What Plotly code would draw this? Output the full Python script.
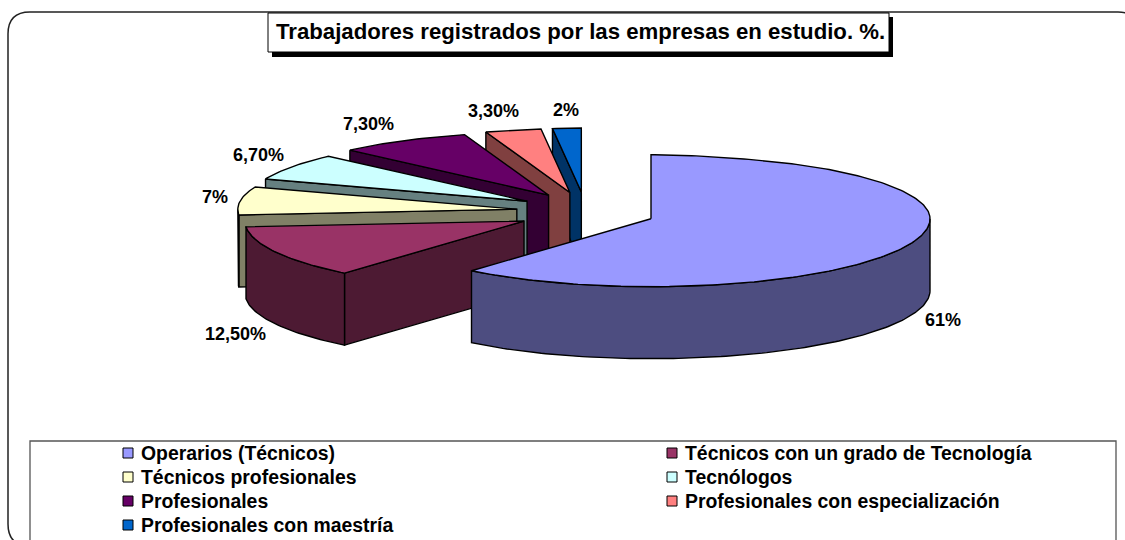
import math
import plotly.graph_objects as go

# ---- data ----
categories = ["Operarios (Técnicos)", "Técnicos con un grado de Tecnología",
              "Técnicos profesionales", "Tecnólogos", "Profesionales",
              "Profesionales con especialización", "Profesionales con maestría"]
values = [61, 12.5, 7, 6.7, 7.3, 3.3, 2]
value_labels = ["61%", "12,50%", "7%", "6,70%", "7,30%", "3,30%", "2%"]
title_text = "Trabajadores registrados por las empresas en estudio. %."

# ---- style ----
top_colors = ["#9999FF", "#993366", "#FFFFCC", "#CCFFFF", "#660066", "#FF8080", "#0066CC"]
wall_colors = ["#4D4D80", "#4D1A33", "#808066", "#668080", "#330033", "#804040", "#003366"]
FONT = "Liberation Sans"
RX, RY_BACK, RY_FRONT, DEPTH = 279, 64, 68, 72
CX, CY = 585.7, 211.9
PULL_X, PULL_Y = 69.5, 19.9
label_pos = [(943, 320), (235, 334), (215, 197), (258, 155), (368, 124), (493, 111), (566, 110)]
legend_cols = [(128, 139), (672, 683)]
legend_rows = [453, 477, 501, 525]


def rim(cx, cy, deg):
    a = math.radians(deg)
    dy = -math.cos(a)
    if dy < 0:
        return cx + RX * math.sin(a) * (1 - 0.2 * abs(dy) ** 16), cy + RY_BACK * dy
    return cx + RX * math.sin(a), cy + RY_FRONT * dy


def arc(cx, cy, a0, a1):
    n = max(2, int(abs(a1 - a0)) + 2)
    return [rim(cx, cy, a0 + (a1 - a0) * i / (n - 1)) for i in range(n)]


fig = go.Figure()


def poly(points, color):
    fig.add_trace(go.Scatter(
        x=[p[0] for p in points] + [points[0][0]],
        y=[p[1] for p in points] + [points[0][1]],
        mode="lines", fill="toself", fillcolor=color,
        line=dict(color="#000000", width=1.4), hoverinfo="skip", showlegend=False))


total = sum(values)
slices = []
acc = 0.0
for i, v in enumerate(values):
    a0 = acc / total * 360
    acc += v
    a1 = acc / total * 360
    slices.append((i, a0, a1))

for i, a0, a1 in reversed(slices):
    mid = math.radians((a0 + a1) / 2)
    ax = CX + PULL_X * math.sin(mid)
    ay = CY - PULL_Y * math.cos(mid)
    if 180 < a0 < 360:
        r = rim(ax, ay, a0)
        poly([r, (ax, ay), (ax, ay + DEPTH), (r[0], r[1] + DEPTH)], wall_colors[i])
    if 0 < a1 < 180:
        r = rim(ax, ay, a1)
        poly([r, (ax, ay), (ax, ay + DEPTH), (r[0], r[1] + DEPTH)], wall_colors[i])
    w0, w1 = max(a0, 90), min(a1, 270)
    if w1 > w0:
        front = arc(ax, ay, w0, w1)
        poly(front + [(x, y + DEPTH) for x, y in reversed(front)], wall_colors[i])
    poly([(ax, ay)] + arc(ax, ay, a0, a1), top_colors[i])

# legend swatches
sx, sy = [], []
for k in range(len(categories)):
    sx.append(legend_cols[k % 2][0])
    sy.append(legend_rows[k // 2])
fig.add_trace(go.Scatter(x=sx, y=sy, mode="markers", hoverinfo="skip", showlegend=False,
                         marker=dict(symbol="square", size=10, color=top_colors,
                                     line=dict(color="#000000", width=1))))

ann = []
for t, (x, y) in zip(value_labels, label_pos):
    ann.append(dict(x=x, y=y, text=t, showarrow=False, xref="x", yref="y",
                    font=dict(family=FONT, size=18, color="#000000")))
for k, c in enumerate(categories):
    ann.append(dict(x=legend_cols[k % 2][1], y=legend_rows[k // 2], text=c, showarrow=False,
                    xanchor="left", xref="x", yref="y",
                    font=dict(family=FONT, size=19.4, color="#000000")))
ann.append(dict(x=580, y=31, text=title_text, showarrow=False, xref="x", yref="y",
                font=dict(family=FONT, size=22.2, color="#000000")))
for a in ann:
    a["font"]["weight"] = "bold"

L, T, R, B, C = 8, 12, 1140, 546, 22
frame = (f"M {L+C} {T} L {R-C} {T} Q {R} {T} {R} {T+C} L {R} {B-C} Q {R} {B} {R-C} {B} "
         f"L {L+C} {B} Q {L} {B} {L} {B-C} L {L} {T+C} Q {L} {T} {L+C} {T} Z")
shapes = [
    dict(type="path", path=frame, line=dict(color="#222222", width=1.5), fillcolor="#FFFFFF", layer="below"),
    dict(type="rect", x0=30, y0=441, x1=1116, y1=560, line=dict(color="#555555", width=1.3),
         fillcolor="#FFFFFF", layer="below"),
    dict(type="rect", x0=272, y0=17, x1=893, y1=57, line=dict(width=0), fillcolor="#000000", layer="below"),
    dict(type="rect", x0=268, y0=13, x1=889, y1=52, line=dict(color="#000000", width=1),
         fillcolor="#FFFFFF", layer="below"),
]

fig.update_layout(
    width=1125, height=540, autosize=False,
    margin=dict(l=0, r=0, t=0, b=0),
    paper_bgcolor="#FFFFFF", plot_bgcolor="#FFFFFF",
    showlegend=False, shapes=shapes, annotations=ann,
    xaxis=dict(range=[0, 1125], visible=False, fixedrange=True),
    yaxis=dict(range=[540, 0], visible=False, fixedrange=True),
)
fig.write_html("out.html", config=dict(displayModeBar=False),
               post_script="document.body.style.margin='0';document.body.style.overflow='hidden';")
